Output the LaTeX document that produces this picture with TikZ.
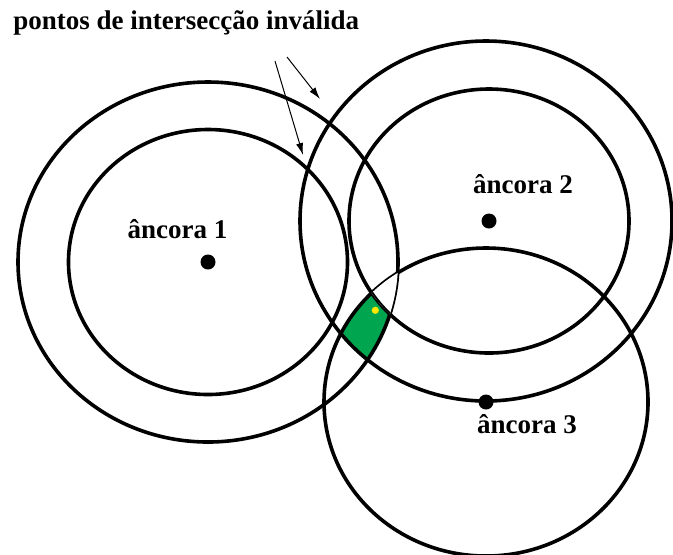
\documentclass[tikz,border=0pt]{standalone}
\usepackage{fontspec}
\setmainfont{Liberation Serif}
\usepackage{xcolor}
\usepackage{tikz}
\usetikzlibrary{
    arrows.meta
}
\definecolor{zonegreen}{RGB}{0,165,80}
\definecolor{estyellow}{RGB}{255,232,0}
\tikzset{
    anchordot/.style={circle,fill=black,inner sep=0pt,minimum size=7.5pt},
    estdot/.style={circle,fill=estyellow,inner sep=0pt,minimum size=3.6pt},
    ring/.style={line width=1.8pt},
    lbl/.style={font=\bfseries\fontsize{13.5}{16}\selectfont,inner sep=0pt,anchor=base},
    pointer/.style={line width=0.5pt,-{Latex[length=6pt,width=3.6pt]}}
}

\begin{document}
\begin{tikzpicture}[x=0.5pt,y=-0.5pt]
        \useasboundingbox (0,0) rectangle (673,554);

        \draw (13,29) node[lbl,anchor=base west](tt){pontos de intersecção inválida};

        \draw (208,262) node[anchordot](a1){};
        \draw (489,221) node[anchordot](a2){};
        \draw (486,402) node[anchordot](a3){};

        \draw (177.5,238) node[lbl](l1){âncora 1};
        \draw (523,193) node[lbl](l2){âncora 2};
        \draw (527,433) node[lbl](l3){âncora 3};

        % zona valida
        \begin{scope}
            \clip (a3) ellipse [x radius=162, y radius=154];
            \clip (a1) ellipse [x radius=190, y radius=180];
            \clip ([xshift=-1.5pt]a2) ellipse [x radius=186, y radius=180];
            \fill[zonegreen,even odd rule] (0,0) rectangle (673,554)
                (a2) ellipse [x radius=140, y radius=132];
        \end{scope}

        \draw[ring] (a1) ellipse [x radius=190, y radius=180];
        \draw[ring] (a1) ellipse [x radius=139.5, y radius=132.5];
        \draw[ring] ([xshift=-1.5pt]a2) ellipse [x radius=186, y radius=180];
        \draw[ring] (a2) ellipse [x radius=140, y radius=132];
        \draw[ring] (a3) ellipse [x radius=162, y radius=154];

        \begin{scope}
            \clip (a3) ellipse [x radius=162, y radius=154];
            \clip (a2) ellipse [x radius=140, y radius=132];
            \clip (a1) ellipse [x radius=190, y radius=180];
            \fill[white] (0,0) rectangle (673,554);
            \draw[ring] (a2) ellipse [x radius=140, y radius=132];
        \end{scope}

        \draw (375.3,310.3) node[estdot](est){};

        \coordinate (s1) at (275,61);
        \coordinate (e1) at (303,155);
        \coordinate (s2) at (287,57);
        \coordinate (e2) at (320,99);
        \draw[pointer] (s1) to (e1);
        \draw[pointer] (s2) to (e2);
    \end{tikzpicture}
\end{document}
